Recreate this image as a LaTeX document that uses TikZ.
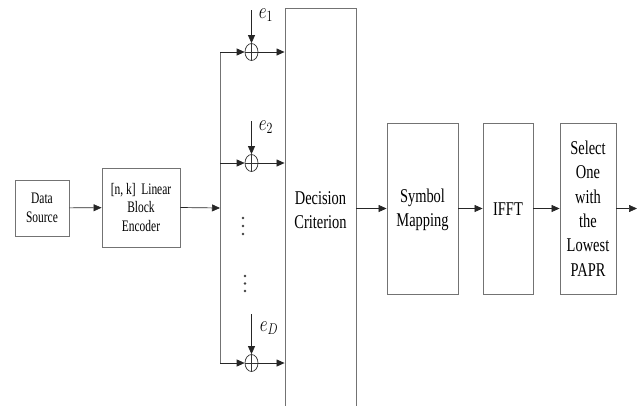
\documentclass[tikz,border=0pt]{standalone}
\usepackage{fontspec}
\setmainfont{Liberation Serif}
\usepackage{graphicx}
\usetikzlibrary{shapes.geometric,arrows.meta}
\newcommand{\stl}[1]{\scalebox{1}[1.4]{#1}}
\newcommand{\stb}[1]{\scalebox{1}[1.35]{#1}}
\newcommand{\ste}[1]{\scalebox{1}[1.3]{#1}}
\begin{document}
\begin{tikzpicture}[x=1bp,y=-1bp,
  blk/.style={draw=black!55,line width=0.9bp,rectangle,inner sep=0pt,align=center},
  smallblk/.style={blk,font=\fontsize{11.5}{19}\selectfont},
  bigtext/.style={inner sep=0pt,align=center,font=\fontsize{14.5}{24.4}\selectfont},
  arr/.style={draw=black!85,line width=0.7bp,-{Triangle[length=8bp,width=7bp]}},
  ln/.style={draw=black!55,line width=0.8bp},
  sumnode/.style={ellipse,draw=black!80,line width=0.7bp,minimum width=13bp,minimum height=17bp,inner sep=0pt,
    path picture={\draw[black!80,line width=0.7bp] (path picture bounding box.north) -- (path picture bounding box.south)
      (path picture bounding box.west) -- (path picture bounding box.east);}},
  elab/.style={inner sep=0pt,font=\fontsize{18}{20}\selectfont}
  ]
\useasboundingbox (0,0) rectangle (641,405);
\clip (0,0) rectangle (641,405);
% blocks
\node[smallblk,minimum width=54bp,minimum height=56bp] (ds) at (42,208) {\stl{Data}\\\stl{Source}};
\node[smallblk,minimum width=78bp,minimum height=79bp] (enc) at (141,207.5) {\stl{[n, k]\ \ Linear}\\\stl{Block}\\\stl{Encoder}};
\node[blk,minimum width=71bp,minimum height=412bp] (dec) at (320.5,214) {};
\node[bigtext] (dect) at (320.5,210) {\stb{Decision}\\\stb{Criterion}};
\node[blk,minimum width=71bp,minimum height=171bp] (sm) at (422.5,208.5) {};
\node[bigtext] (smt) at (422.5,209.5) {\stb{Symbol}\\\stb{Mapping}};
\node[blk,minimum width=50bp,minimum height=171bp] (ifft) at (508,208.5) {};
\node[bigtext] (ifftt) at (508,209) {\stb{IFFT}};
\node[blk,minimum width=56bp,minimum height=171bp] (sel) at (588,208.5) {};
\node[bigtext] (selt) at (588,208.5) {\stb{Select}\\\stb{One}\\\stb{with}\\\stb{the}\\\stb{Lowest}\\\stb{PAPR}};
\coordinate (out) at (637,208.5);
% bus
\coordinate (bt) at (220,52);
\coordinate (bm) at (220,208);
\coordinate (bb) at (220,363);
% adders
\node[sumnode] (s1) at (251.5,52) {};
\node[sumnode] (s2) at (251.5,163) {};
\node[sumnode] (s3) at (251.5,363) {};
\coordinate (e1s) at (251.5,10);
\coordinate (e2s) at (251.5,121);
\coordinate (e3s) at (251.5,314);
\node[elab] (e1) at (266,15) {\ste{$e_1$}};
\node[elab] (e2) at (266,127) {\ste{$e_2$}};
\node[elab] (e3) at (269,328) {\ste{$e_D$}};
% connectors
\draw[arr] (ds) -- (enc);
\draw[arr] (enc.east) -- (bm);
\draw[ln] (bt) -- (bb);
\draw[arr] (bt) -- (s1.west);
\draw[arr] (bt |- s2) -- (s2.west);
\draw[arr] (bb) -- (s3.west);
\draw[arr] (e1s) -- (s1.north);
\draw[arr] (e2s) -- (s2.north);
\draw[arr] (e3s) -- (s3.north);
\draw[arr] (s1.east) -- (s1 -| dec.west);
\draw[arr] (s2.east) -- (s2 -| dec.west);
\draw[arr] (s3.east) -- (s3 -| dec.west);
\draw[arr] (dec.east |- sm.west) -- (sm.west);
\draw[arr] (sm) -- (ifft);
\draw[arr] (ifft) -- (sel);
\draw[arr] (sel) -- (out);
% vertical dots
\foreach \yy in {218,226,234} \fill[black!75] (243,\yy) circle (1.3bp);
\foreach \yy in {276,283.5,291} \fill[black!75] (245,\yy) circle (1.3bp);
\end{tikzpicture}
\end{document}
